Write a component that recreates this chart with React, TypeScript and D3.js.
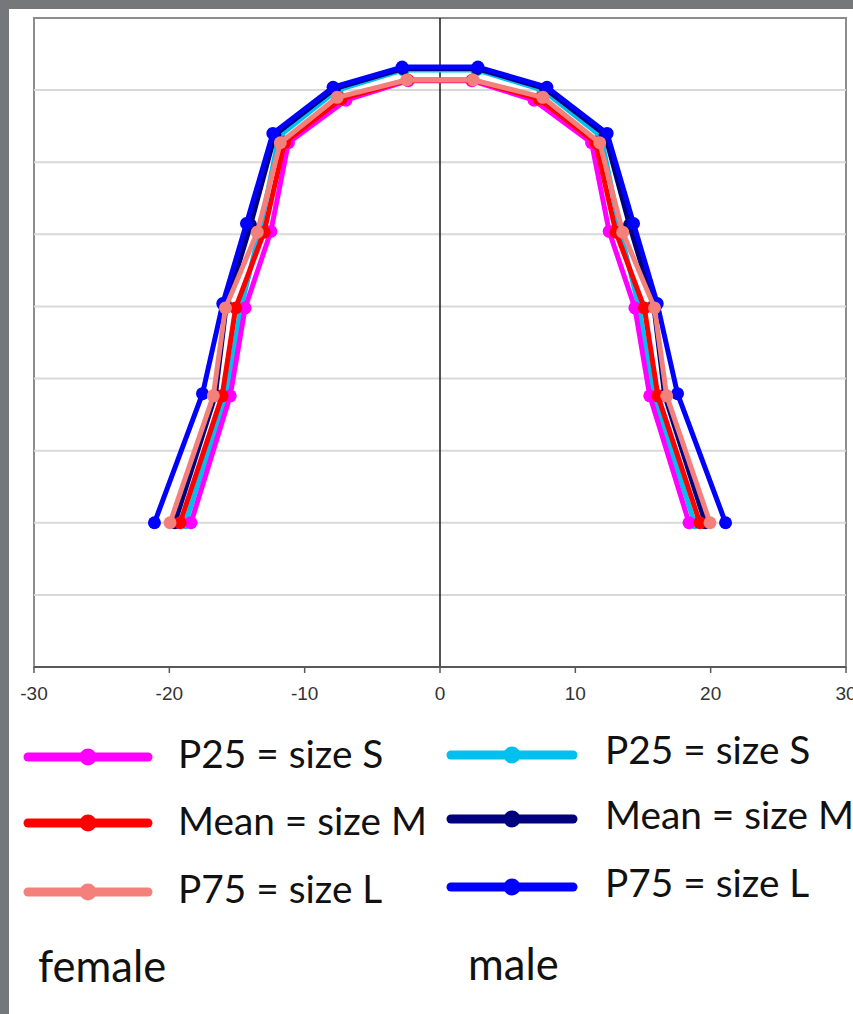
import React from "react";
import * as d3 from "d3";

const xTicks = [-30, -20, -10, 0, 10, 20, 30];
const yGrid = [10, 20, 30, 40, 50, 60, 70, 80];

const femaleP25X = [2.35, 6.95, 11.2, 12.5, 14.4, 15.5, 18.4];
const femaleP25Y = [81.3, 78.6, 72.7, 60.4, 49.8, 37.6, 20];
const femaleMeanX = [2.4, 7.3, 11.5, 13.0, 15.1, 16.1, 19.2];
const femaleMeanY = [81.4, 78.8, 72.7, 60.3, 49.8, 37.6, 20];
const femaleP75X = [2.45, 7.6, 11.8, 13.5, 15.85, 16.75, 19.95];
const femaleP75Y = [81.4, 79.0, 72.7, 60.3, 49.8, 37.6, 20];
const maleP25X = [2.7, 7.6, 11.9, 13.3, 14.7, 15.8, 18.8];
const maleP25Y = [82.8, 80.0, 73.6, 60.6, 49.9, 37.6, 20];
const maleMeanX = [2.75, 7.8, 12.2, 14.0, 15.8, 16.6, 19.6];
const maleMeanY = [83.0, 80.2, 73.8, 61.3, 50.1, 37.7, 20];
const maleP75X = [2.8, 7.9, 12.35, 14.3, 16.05, 17.55, 21.1];
const maleP75Y = [83.2, 80.4, 74.0, 61.5, 50.4, 37.9, 20];

const seriesNames = ["P25 = size S", "Mean = size M", "P75 = size L", "P25 = size S", "Mean = size M", "P75 = size L"];
const seriesColors = ["#ff00ff", "#ff0000", "#f4807b", "#00c0ef", "#00007f", "#0000ff"];
const seriesX = [femaleP25X, femaleMeanX, femaleP75X, maleP25X, maleMeanX, maleP75X];
const seriesY = [femaleP25Y, femaleMeanY, femaleP75Y, maleP25Y, maleMeanY, maleP75Y];
const drawOrder = [3, 4, 5, 0, 1, 2];

const W = 853, H = 1014;
const PL = 34, PR = 846, PT = 18, PB = 667;
const FONT = "Lato, 'Open Sans', sans-serif";

export default function App() {
  const x = d3.scaleLinear().domain([-30, 30]).range([PL, PR]);
  const y = d3.scaleLinear().domain([0, 90]).range([PB, PT]);
  const line = d3.line<[number, number]>().x(d => x(d[0])).y(d => y(d[1]));

  const series = seriesX.map((xs, s) => {
    const ys = seriesY[s];
    const pts: [number, number][] = [];
    for (let i = xs.length - 1; i >= 0; i--) pts.push([-xs[i], ys[i]]);
    for (let i = 0; i < xs.length; i++) pts.push([xs[i], ys[i]]);
    return { pts, color: seriesColors[s], name: seriesNames[s] };
  });

  const legendCols = [
    { x1: 28, x2: 148, tx: 178, rows: [757, 823, 892], base: [768, 835, 903] },
    { x1: 451, x2: 573, tx: 605, rows: [755, 819, 887], base: [764, 829, 897] },
  ];

  return (
    <svg width={W} height={H} style={{ position: "absolute", left: 0, top: 0, display: "block" }}>
      <rect x={0} y={0} width={W} height={H} fill="#75787b" />
      <rect x={9} y={9} width={W - 9} height={H - 9} fill="#ffffff" />
      <rect x={PL} y={PT} width={PR - PL} height={PB - PT} fill="#fff" stroke="#8c8c8c" strokeWidth={2} />
      {yGrid.map(v => (
        <line key={v} x1={PL} x2={PR} y1={y(v)} y2={y(v)} stroke="#d9d9d9" strokeWidth={2} />
      ))}
      <line x1={x(0)} x2={x(0)} y1={PT} y2={PB} stroke="#1a1a1a" strokeWidth={1.5} />
      <line x1={PL} x2={PR} y1={PB} y2={PB} stroke="#595959" strokeWidth={2} />
      {xTicks.map(t => (
        <g key={t}>
          <line x1={x(t)} x2={x(t)} y1={PB} y2={PB + 6} stroke="#595959" strokeWidth={1.5} />
          <text x={x(t)} y={700} textAnchor="middle" fontFamily="Liberation Sans, Arial, sans-serif" fontSize={19} fill="#333">{t}</text>
        </g>
      ))}
      {drawOrder.map(i => {
        const s = series[i];
        return (
          <g key={i}>
            <path d={line(s.pts) || ""} fill="none" stroke={s.color} strokeWidth={5} strokeLinejoin="round" />
            {s.pts.map((p, j) => (
              <circle key={j} cx={x(p[0])} cy={y(p[1])} r={6.5} fill={s.color} />
            ))}
          </g>
        );
      })}
      {legendCols.map((c, ci) => (
        <g key={ci}>
          {[0, 1, 2].map(r => {
            const s = series[ci * 3 + r];
            return (
              <g key={r}>
                <line x1={c.x1} x2={c.x2} y1={c.rows[r]} y2={c.rows[r]} stroke={s.color} strokeWidth={9} strokeLinecap="round" />
                <circle cx={(c.x1 + c.x2) / 2} cy={c.rows[r]} r={8.5} fill={s.color} />
                <text x={c.tx} y={c.base[r]} fontFamily={FONT} fontSize={38.8} fill="#111">{s.name}</text>
              </g>
            );
          })}
        </g>
      ))}
      <text x={38} y={982} fontFamily={FONT} fontSize={43.5} fill="#111">female</text>
      <text x={468} y={980} fontFamily={FONT} fontSize={43.5} fill="#111">male</text>
    </svg>
  );
}
